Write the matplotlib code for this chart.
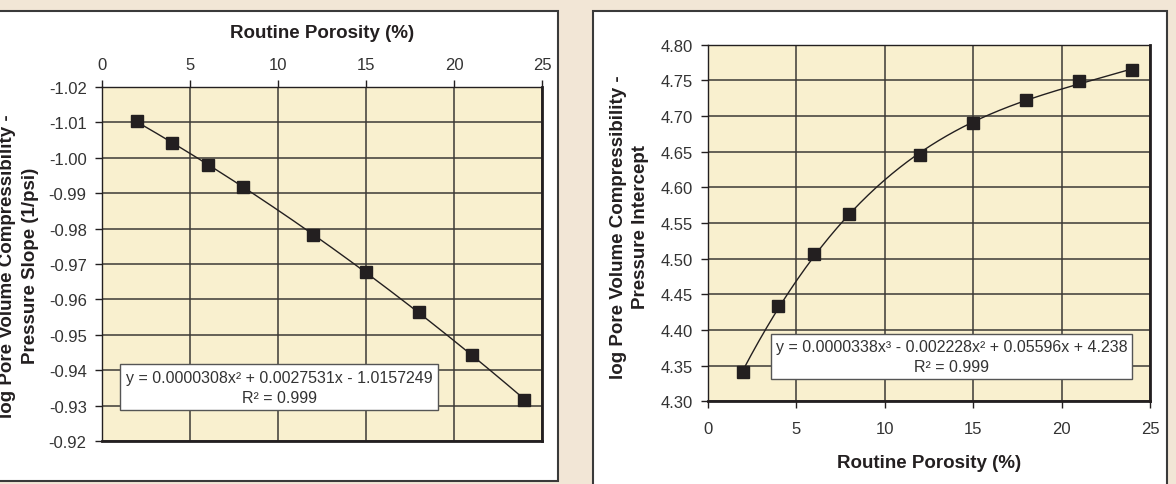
import numpy as np
import matplotlib
matplotlib.use("Agg")
import matplotlib.pyplot as plt
from matplotlib.patches import Rectangle

plt.rcParams['font.family'] = ['Liberation Sans', 'DejaVu Sans']

# data
porosity = [2, 4, 6, 8, 12, 15, 18, 21, 24]
slope = [-1.0103, -1.0042, -0.9980, -0.9917, -0.9782, -0.9676, -0.9565, -0.9444, -0.9316]
intercept = [4.341, 4.433, 4.506, 4.562, 4.645, 4.690, 4.723, 4.749, 4.764]

x_ticks = [0, 5, 10, 15, 20, 25]
slope_ticks = [-1.02, -1.01, -1.00, -0.99, -0.98, -0.97, -0.96, -0.95, -0.94, -0.93, -0.92]
icpt_ticks = [4.30, 4.35, 4.40, 4.45, 4.50, 4.55, 4.60, 4.65, 4.70, 4.75, 4.80]

eq_slope = "y = 0.0000308x² + 0.0027531x - 1.0157249\nR² = 0.999"
eq_icpt = "y = 0.0000338x³ - 0.002228x² + 0.05596x + 4.238\nR² = 0.999"

W, H = 1176, 485
bg = '#F2E6D6'
plot_bg = '#F9F0CF'
dark = '#231F20'
grid_c = '#3c3a36'

fig = plt.figure(figsize=(W / 100, H / 100), dpi=100, facecolor=bg)


def px_rect(x0, y0, x1, y1):
    # pixel box (top-left origin) -> figure fraction rectangle
    return Rectangle((x0 / W, 1 - y1 / H), (x1 - x0) / W, (y1 - y0) / H,
                     transform=fig.transFigure, facecolor='white',
                     edgecolor='#3a3a3a', lw=1.5, zorder=0)


fig.add_artist(px_rect(-10, 12, 558, 482))
fig.add_artist(px_rect(593, 12, 1167, 495))


def style(ax, ticks_y, fmt):
    ax.set_facecolor(plot_bg)
    ax.set_xlim(0, 25)
    ax.set_xticks(x_ticks)
    ax.set_yticks(ticks_y)
    ax.set_yticklabels([fmt.format(v) for v in ticks_y])
    ax.grid(True, color=grid_c, lw=1.1)
    ax.set_axisbelow(True)
    for s in ax.spines.values():
        s.set_color(dark)
        s.set_linewidth(1.0)
    ax.spines['right'].set_linewidth(2.0)
    ax.spines['bottom'].set_linewidth(2.0)
    ax.tick_params(length=5, width=1, color=dark, labelcolor='#333333', labelsize=12)


# left chart: slope, reversed y, x axis on top
ax1 = fig.add_axes([102 / W, 1 - 442 / H, 440 / W, 354 / H])
style(ax1, slope_ticks, "{:.2f}")
ax1.set_ylim(-0.92, -1.02)
ax1.xaxis.tick_top()
ax1.xaxis.set_label_position('top')
ax1.tick_params(axis='x', pad=6)
ax1.tick_params(axis='y', pad=6)
ax1.set_xlabel("Routine Porosity (%)", fontsize=13.5, fontweight='bold',
               color=dark, labelpad=14)
c1 = np.polyfit(porosity, slope, 2)
xx = np.linspace(2, 24, 200)
ax1.plot(xx, np.polyval(c1, xx), color=dark, lw=1.0, zorder=3)
ax1.plot(porosity, slope, 's', color=dark, ms=8, zorder=4)
ax1.text(0.403, 0.152, eq_slope, transform=ax1.transAxes, ha='center', va='center',
         multialignment='center', fontsize=11.5, color='#333333', linespacing=1.4,
         bbox=dict(boxstyle='square,pad=0.35', fc='white', ec='#555555', lw=1.0), zorder=5)
fig.text(19 / W, 1 - 266 / H, "log Pore Volume Compressibility -\nPressure Slope (1/psi)",
         rotation=90, ha='center', va='center', multialignment='center',
         fontsize=13.5, fontweight='bold', color=dark, linespacing=1.4)

# right chart: intercept
ax2 = fig.add_axes([707.7 / W, 1 - 402.3 / H, 442.3 / W, 356.6 / H])
style(ax2, icpt_ticks, "{:.2f}")
ax2.set_ylim(4.30, 4.80)
ax2.tick_params(axis='x', pad=9)
ax2.tick_params(axis='y', pad=6)
ax2.set_xlabel("Routine Porosity (%)", fontsize=13.5, fontweight='bold',
               color=dark, labelpad=13)
c2 = np.polyfit(porosity, intercept, 3)
ax2.plot(xx, np.polyval(c2, xx), color=dark, lw=1.0, zorder=3)
ax2.plot(porosity, intercept, 's', color=dark, ms=8, zorder=4)
ax2.text(0.552, 0.126, eq_icpt, transform=ax2.transAxes, ha='center', va='center',
         multialignment='center', fontsize=11.5, color='#333333', linespacing=1.4,
         bbox=dict(boxstyle='square,pad=0.3', fc='white', ec='#555555', lw=1.0), zorder=5)
fig.text(629.5 / W, 1 - 227 / H, "log Pore Volume Compressibility -\nPressure Intercept",
         rotation=90, ha='center', va='center', multialignment='center',
         fontsize=13.5, fontweight='bold', color=dark, linespacing=1.4)

fig.savefig("out.png", dpi=100, facecolor=bg)
